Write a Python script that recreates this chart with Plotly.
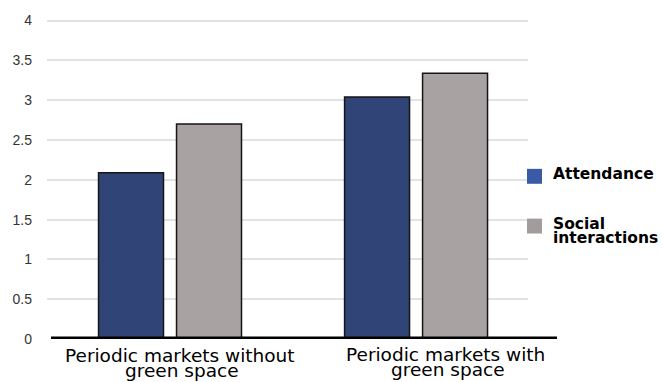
import plotly.graph_objects as go

# Survey means by market type
categories = ["Periodic markets without green space", "Periodic markets with green space"]
category_label_lines = [["Periodic markets without", "green space"],
                        ["Periodic markets with", "green space"]]
attendance = [2.09, 3.04]
social_interactions = [2.70, 3.34]
series_label_lines = [["Attendance"], ["Social", "interactions"]]
y_ticks = [0, 0.5, 1, 1.5, 2, 2.5, 3, 3.5, 4]
y_tick_labels = ["0", "0.5", "1", "1.5", "2", "2.5", "3", "3.5", "4"]

NAVY = "#314477"
GREY = "#A8A2A3"
LEGEND_BLUE = "#3A5AA6"
LEGEND_GREY = "#A29C9D"
TICK_FONT = "Liberation Sans, Arial, sans-serif"
LABEL_FONT = "DejaVu Sans, sans-serif"

LEFT, BASE_Y = 47, 339      # pixel position of plot-area left edge and y = 0
PLOT_H = 321.6              # pixel height of the plotting area
PLOT_W = 481.0              # pixel width of the plotting area


def px_x(px):
    return (px - LEFT) / PLOT_W


def px_y(py):
    return (BASE_Y - py) / PLOT_H


fig = go.Figure()
fig.add_trace(go.Bar(
    x=categories, y=attendance, name="Attendance",
    marker=dict(color=NAVY, line=dict(color="#151515", width=1.5)),
))
fig.add_trace(go.Bar(
    x=categories, y=social_interactions, name="Social interactions",
    marker=dict(color=GREY, line=dict(color="#151515", width=1.5)),
))

# Heavy baseline running past the plot area
fig.add_shape(type="line", xref="paper", yref="y", x0=px_x(51), x1=px_x(557),
              y0=0, y1=0, line=dict(color="black", width=5), layer="above")

# Category labels below the baseline, one annotation per line
label_centres_x = [[180, 182], [445, 448]]
label_centres_y = [[356, 370.5], [355, 369.5]]
for lines, xs, ys in zip(category_label_lines, label_centres_x, label_centres_y):
    for text, cx, cy in zip(lines, xs, ys):
        fig.add_annotation(xref="paper", yref="paper", x=px_x(cx), y=px_y(cy),
                           xanchor="center", yanchor="middle", text=text,
                           showarrow=False, borderpad=0,
                           font=dict(family=LABEL_FONT, size=18.5, color="black"))

# Hand-placed legend
legend_colors = [LEGEND_BLUE, LEGEND_GREY]
legend_box_top = [168, 218]
legend_line_y = [[173], [223, 237]]
for lines, col, top, ys in zip(series_label_lines, legend_colors, legend_box_top, legend_line_y):
    fig.add_shape(type="rect", xref="paper", yref="paper",
                  x0=px_x(527), x1=px_x(542), y0=px_y(top + 15), y1=px_y(top),
                  fillcolor=col, line=dict(width=0))
    for text, cy in zip(lines, ys):
        fig.add_annotation(xref="paper", yref="paper", x=px_x(552), y=px_y(cy),
                           xanchor="left", yanchor="middle", text=f"<b>{text}</b>",
                           showarrow=False, align="left", borderpad=0,
                           font=dict(family=LABEL_FONT, size=15.5, color="black"))

fig.update_layout(
    width=662, height=382,
    margin=dict(l=LEFT, r=662 - LEFT - PLOT_W, t=BASE_Y - PLOT_H, b=382 - BASE_Y, pad=0),
    paper_bgcolor="white", plot_bgcolor="white",
    barmode="group", bargap=0.366, bargroupgap=0.167,
    showlegend=False,
    xaxis=dict(type="category", range=[-0.5, 1.455], showticklabels=False,
               showgrid=False, zeroline=False, showline=False, ticks=""),
    yaxis=dict(range=[0, 4.02], tickvals=y_ticks, ticktext=y_tick_labels,
               showgrid=True, gridcolor="#E2E2E2", gridwidth=1.5,
               zeroline=False, showline=False, ticks="",
               ticklabelstandoff=14,
               tickfont=dict(family=TICK_FONT, size=14, color="#333333")),
)

fig.write_html("out.html")
